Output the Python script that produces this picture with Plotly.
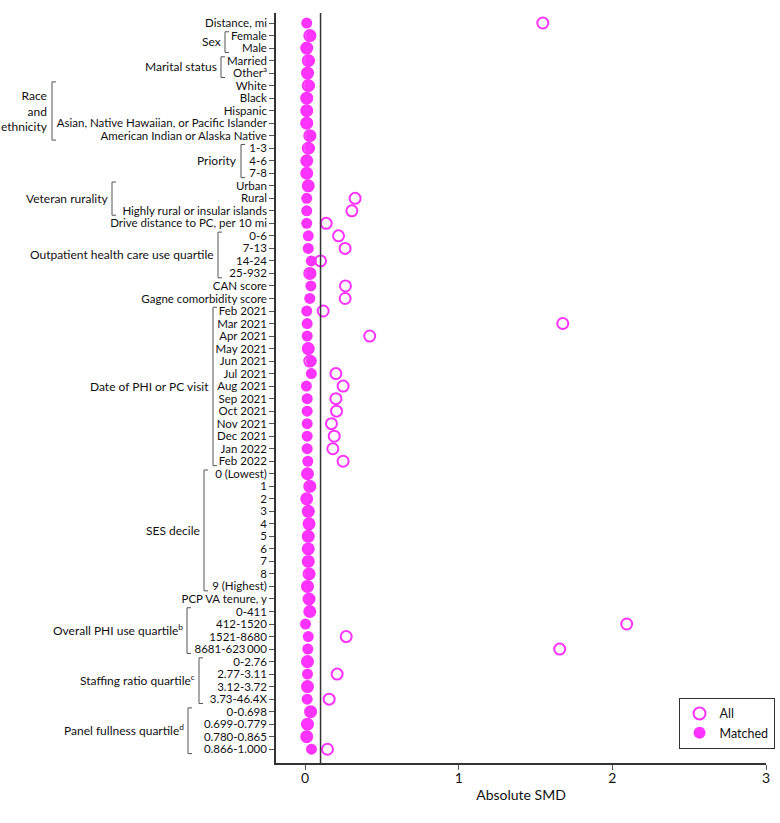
import plotly.graph_objects as go

labels = [
    "Distance, mi", "Female", "Male", "Married", "Other<sup>a</sup>",
    "White", "Black", "Hispanic", "Asian, Native Hawaiian, or Pacific Islander",
    "American Indian or Alaska Native", "1-3", "4-6", "7-8",
    "Urban", "Rural", "Highly rural or insular islands",
    "Drive distance to PC, per 10 mi", "0-6", "7-13", "14-24", "25-932",
    "CAN score", "Gagne comorbidity score",
    "Feb 2021", "Mar 2021", "Apr 2021", "May 2021", "Jun 2021", "Jul 2021",
    "Aug 2021", "Sep 2021", "Oct 2021", "Nov 2021", "Dec 2021", "Jan 2022", "Feb 2022",
    "0 (Lowest)", "1", "2", "3", "4", "5", "6", "7", "8", "9 (Highest)",
    "PCP VA tenure, y", "0-411", "412-1520", "1521-8680", "8681-623\u2009000",
    "0-2.76", "2.77-3.11", "3.12-3.72", "3.73-46.4X",
    "0-0.698", "0.699-0.779", "0.780-0.865", "0.866-1.000",
]

smd_all = [
    1.547, 0.03, 0.01, 0.02, 0.015,
    0.02, 0.01, 0.01, 0.01, 0.03, 0.02, 0.01, 0.01,
    0.02, 0.325, 0.304,
    0.137, 0.217, 0.26, 0.10, 0.03,
    0.262, 0.26,
    0.117, 1.677, 0.42, 0.02, 0.03, 0.20,
    0.247, 0.20, 0.204, 0.171, 0.189, 0.18, 0.247,
    0.015, 0.03, 0.01, 0.02, 0.025, 0.02, 0.02, 0.02, 0.025, 0.015,
    0.025, 0.03, 2.093, 0.267, 1.657,
    0.015, 0.208, 0.015, 0.156,
    0.035, 0.015, 0.01, 0.145,
]

smd_matched = [
    0.010, 0.037, 0.010, 0.028, 0.020,
    0.028, 0.013, 0.013, 0.013, 0.037, 0.028, 0.010, 0.010,
    0.020, 0.010, 0.010,
    0.010, 0.020, 0.020, 0.040, 0.037,
    0.037, 0.030,
    0.010, 0.013, 0.013, 0.022, 0.040, 0.040,
    0.008, 0.013, 0.013, 0.013, 0.013, 0.013, 0.017,
    0.017, 0.035, 0.010, 0.024, 0.028, 0.020, 0.020, 0.020, 0.030, 0.017,
    0.028, 0.030, 0.002, 0.020, 0.017,
    0.015, 0.015, 0.017, 0.013,
    0.040, 0.017, 0.013, 0.041,
]

# groups: (label, first row, last row, bracket x px)
groups = [
    ("Sex", 1, 2, 225),
    ("Marital status", 3, 4, 221),
    ("Race<br>and<br>ethnicity", 5, 9, 52),
    ("Priority", 10, 12, 241),
    ("Veteran rurality", 13, 15, 112),
    ("Outpatient health care use quartile", 17, 20, 218),
    ("Date of PHI or PC visit", 23, 35, 213),
    ("SES decile", 36, 45, 204),
    ("Overall PHI use quartile<sup>b</sup>", 47, 50, 187),
    ("Staffing ratio quartile<sup>c</sup>", 51, 54, 199),
    ("Panel fullness quartile<sup>d</sup>", 55, 58, 188),
]

ref_line = 0.1
color = "#FF33FF"
font = "Lato"
fs = 11.5

rows = list(range(len(labels)))

fig = go.Figure()
fig.add_trace(go.Scatter(
    x=smd_all, y=rows, mode="markers", name="All",
    marker=dict(symbol="circle-open", size=11, color=color, line=dict(width=2, color=color)),
))
fig.add_trace(go.Scatter(
    x=smd_matched, y=rows, mode="markers", name="Matched",
    marker=dict(symbol="circle", size=11, color=color),
))

L, R, T, B = 276, 14, 13, 60
W, H = 780, 823
pw = W - L - R

def px_to_paper(px):
    return (px - L) / pw

shapes = [dict(type="line", xref="x", yref="paper", x0=ref_line, x1=ref_line, y0=0, y1=1,
               line=dict(color="#333333", width=1.5))]
annotations = []
for name, r0, r1, bx in groups:
    xp = px_to_paper(bx)
    xt = px_to_paper(bx + 4)
    ya, yb = r0 - 0.3, r1 + 0.35
    line = dict(color="#555555", width=1)
    shapes.append(dict(type="line", xref="paper", yref="y", x0=xp, x1=xp, y0=ya, y1=yb, line=line))
    shapes.append(dict(type="line", xref="paper", yref="y", x0=xp, x1=xt, y0=ya, y1=ya, line=line))
    shapes.append(dict(type="line", xref="paper", yref="y", x0=xp, x1=xt, y0=yb, y1=yb, line=line))
    annotations.append(dict(xref="paper", yref="y", x=px_to_paper(bx - 2), y=(r0 + r1) / 2,
                            text=name, showarrow=False, xanchor="right", yanchor="middle",
                            align="right", font=dict(family=font, size=fs + 0.5, color="#111111")))

fig.update_layout(
    width=W, height=H,
    margin=dict(l=L, r=R, t=T, b=B, autoexpand=False),
    plot_bgcolor="white", paper_bgcolor="white",
    font=dict(family=font, size=fs, color="#111111"),
    shapes=shapes, annotations=annotations,
    legend=dict(xref="container", yref="container", x=0.993, y=0.09,
                xanchor="right", yanchor="bottom",
                bordercolor="#333333", borderwidth=1, bgcolor="white",
                font=dict(size=12.5), itemsizing="constant", itemwidth=30,
                tracegroupgap=0),
    xaxis=dict(range=[-0.19, 3.0], tickvals=[0, 1, 2, 3], showgrid=False, zeroline=False,
               showline=True, linecolor="#333333", linewidth=1.5, ticks="outside",
               ticklen=5, tickcolor="#555555", ticklabelstandoff=-4,
               title=dict(text="Absolute SMD", font=dict(size=14), standoff=6),
               tickfont=dict(size=14)),
    yaxis=dict(range=[len(labels) - 1 + 1.1, -0.8], tickvals=rows, ticktext=labels,
               showgrid=False, zeroline=False, showline=True, linecolor="#333333",
               linewidth=1.5, ticks="outside", ticklen=5, tickcolor="#555555",
               tickfont=dict(size=fs)),
)

fig.write_html("out.html")
